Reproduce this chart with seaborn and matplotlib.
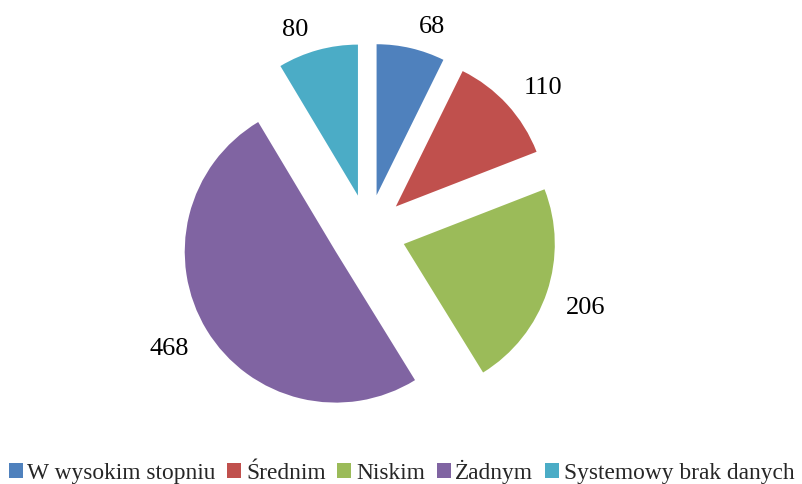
import matplotlib
matplotlib.use("Agg")
import matplotlib.pyplot as plt
import seaborn as sns

# data
categories = ["W wysokim stopniu", "Średnim", "Niskim", "Żadnym", "Systemowy brak danych"]
values = [68, 110, 206, 468, 80]
colors = ["#4F81BD", "#C0504D", "#9BBB59", "#8064A2", "#4BACC6"]

sns.set_theme(style="white")
plt.rcParams["font.family"] = ["Liberation Serif", "DejaVu Serif"]

fig = plt.figure(figsize=(8.03, 4.84), dpi=100)
ax = fig.add_axes([0, 0, 1, 1])

# pie geometry in pixels: center (368, 232) from top-left, radius 151
r = 151.0
cx, cy = 368.0, 232.0

wedges, texts = ax.pie(
    values,
    labels=[str(v) for v in values],
    colors=colors,
    startangle=90,
    counterclock=False,
    explode=[0.25] * len(values),
    labeldistance=1.10,
    textprops={"fontsize": 19, "color": "black"},
    wedgeprops={"linewidth": 0},
)
# outside-end style labels: box corner nearest the pie sits on the label point
for t in texts:
    x, y = t.get_position()
    side = 1 if x > 0 else -1
    t.set_x(x + side * 5 / r)
    t.set_horizontalalignment("left" if side > 0 else "right")
    t.set_verticalalignment("baseline" if y > 0 else "top")

ax.set_aspect("auto")
ax.set_xlim(-cx / r, (803 - cx) / r)
ax.set_ylim(-(484 - cy) / r, cy / r)
ax.axis("off")

fig.legend(
    wedges, categories,
    loc="center", bbox_to_anchor=(0.5, 1 - 472 / 484),
    ncol=5, frameon=False, fontsize=16.8,
    handlelength=0.6, handleheight=0.6, handletextpad=0.2,
    columnspacing=0.5, borderaxespad=0, borderpad=0,
)

fig.savefig("out.png", dpi=100)
